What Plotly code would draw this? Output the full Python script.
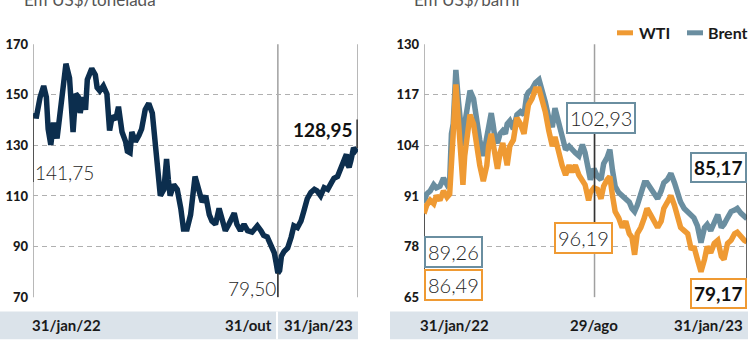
import plotly.graph_objects as go

W, H = 750, 350

# ---------------- data ----------------
# Left chart: minério de ferro, US$/tonelada (dias desde 31/jan/22)
dias_minerio = [0, 4, 8, 12, 15, 17, 20, 23, 25, 27, 30, 34, 37, 41, 43, 45, 48, 51, 53, 56,
                59, 61, 66, 70, 72, 75, 79, 83, 86, 89, 93, 96, 100, 104, 106, 109, 111, 115, 119, 122,
                126, 130, 134, 137, 140, 143, 147, 150, 152, 154, 158, 162, 166, 169, 173, 177, 182, 186, 190, 194,
                198, 201, 205, 209, 213, 216, 220, 226, 229, 233, 237, 241, 246, 252, 256, 259, 263, 267, 271, 273,
                275, 277, 279, 282, 286, 290, 293, 297, 301, 304, 308, 312, 316, 319, 323, 327, 331, 335, 338, 342,
                346, 350, 352, 353, 355, 357, 360, 362, 364]
minerio = [141.75, 141.6, 149.1, 153.5, 149.1, 136.5, 130.2, 139.0, 135.3, 132.8, 141.6, 152.9, 162.3, 156.7, 146.6, 135.3, 150.4, 149.1, 142.8, 149.1,
           144.1, 156.0, 160.4, 157.9, 152.9, 151.6, 153.5, 150.4, 135.9, 141.6, 140.3, 145.3, 135.3, 131.5, 127.7, 127.1, 135.3, 131.5, 134.0, 136.5,
           144.1, 146.6, 142.8, 132.8, 124.0, 110.1, 112.6, 124.6, 116.4, 110.1, 114.5, 112.6, 105.1, 96.9, 96.9, 102.6, 117.7, 112.6, 107.6, 110.1,
           102.6, 100.1, 98.8, 105.1, 100.1, 96.3, 98.8, 103.2, 98.8, 96.3, 98.8, 96.3, 95.7, 98.2, 96.3, 94.4, 93.8, 91.2, 87.5, 83.7,
           79.5, 80.5, 86.2, 88.1, 89.4, 93.8, 98.2, 97.5, 100.1, 103.8, 108.9, 111.4, 112.6, 112.0, 110.1, 113.3, 112.6, 115.2, 117.0, 117.7,
           121.4, 125.2, 126.5, 122.7, 121.4, 124.0, 129.0, 128.0, 128.95]

# Right chart: petróleo, US$/barril
dias_petroleo = [0, 3, 7, 11, 14, 18, 22, 26, 29, 31, 33, 36, 39, 41, 44, 46, 50, 52, 56, 60,
                 63, 67, 71, 73, 76, 78, 80, 83, 86, 89, 92, 94, 97, 101, 105, 109, 113, 116, 118, 122,
                 126, 130, 133, 137, 141, 145, 148, 152, 156, 160, 164, 167, 171, 175, 179, 182, 186, 188, 192, 196,
                 200, 203, 207, 210, 213, 216, 220, 224, 228, 232, 235, 238, 241, 245, 249, 252, 256, 260, 264, 268,
                 271, 275, 279, 283, 286, 290, 294, 298, 302, 305, 309, 313, 317, 320, 324, 328, 332, 336, 339, 343,
                 347, 351, 354, 358, 362, 365]
wti = [86.49, 88.6, 89.9, 89.0, 91.1, 89.9, 92.3, 90.7, 91.5, 103.8, 107.0, 119.7, 111.1, 101.3, 93.9, 101.3, 108.7, 111.9, 109.5, 102.1,
       98.9, 94.8, 98.9, 103.8, 107.0, 104.6, 101.3, 98.0, 102.1, 104.6, 101.3, 98.9, 103.8, 105.4, 111.1, 109.5, 107.0, 111.1, 114.4, 116.0,
       118.5, 118.5, 116.0, 112.7, 107.8, 103.8, 106.2, 102.1, 98.9, 96.4, 98.9, 97.2, 98.9, 96.4, 94.8, 93.9, 89.9, 91.9, 93.1, 92.7,
       90.3, 93.5, 95.2, 96.0, 91.1, 87.0, 85.4, 82.9, 84.5, 81.3, 80.4, 75.9, 81.3, 82.9, 85.4, 87.8, 86.2, 84.5, 82.9, 84.5,
       87.8, 89.4, 91.1, 88.6, 86.2, 82.9, 82.1, 81.3, 77.2, 78.0, 74.7, 71.5, 74.7, 78.0, 76.4, 78.8, 79.6, 75.5, 74.7, 78.8,
       79.6, 81.3, 81.7, 80.4, 79.6, 79.17]
brent = [89.26, 91.5, 92.3, 93.9, 93.1, 93.5, 95.6, 93.9, 94.8, 107.0, 109.5, 123.4, 115.2, 108.7, 103.8, 109.5, 116.0, 118.1, 116.0, 108.7,
         105.4, 101.3, 106.2, 109.5, 112.3, 109.5, 106.2, 104.6, 107.0, 107.8, 107.0, 109.5, 110.3, 108.2, 111.9, 112.7, 111.9, 116.8, 117.7, 118.5,
         120.1, 120.9, 118.9, 115.2, 111.1, 108.7, 113.6, 110.3, 106.2, 102.9, 103.8, 102.9, 102.1, 101.3, 104.2, 102.1, 97.2, 95.2, 98.0, 96.0,
         95.2, 99.3, 100.9, 102.9, 97.6, 93.5, 91.9, 91.0, 90.3, 89.4, 87.8, 87.0, 88.6, 91.1, 94.4, 94.4, 93.1, 91.5, 90.3, 92.3,
         94.4, 95.2, 96.8, 94.4, 91.9, 89.4, 87.8, 87.0, 86.2, 85.4, 83.3, 79.0, 82.9, 83.7, 82.1, 84.5, 86.2, 82.9, 83.7, 85.4,
         87.0, 87.4, 87.8, 86.6, 85.8, 85.17]

yticks_minerio = [70, 90, 110, 130, 150, 170]
yticks_petroleo = [65, 78, 91, 104, 117, 130]

NAVY = "#0c2e4e"
ORANGE = "#ef9a33"
STEEL = "#6a8ea0"
GRID = "#b0b0b0"
BAND = "#dbe3ea"
FONT = "Lato"

def px_x(p):
    return p / W

def px_y(p):
    return 1 - p / H

fig = go.Figure()
fig.add_trace(go.Scatter(x=dias_minerio, y=minerio, mode="lines", xaxis="x", yaxis="y",
                         line=dict(color=NAVY, width=5.5), showlegend=False, hoverinfo="skip"))
fig.add_trace(go.Scatter(x=dias_petroleo, y=brent, mode="lines", xaxis="x2", yaxis="y2", name="Brent",
                         line=dict(color=STEEL, width=5.5), showlegend=False, hoverinfo="skip"))
fig.add_trace(go.Scatter(x=dias_petroleo, y=wti, mode="lines", xaxis="x2", yaxis="y2", name="WTI",
                         line=dict(color=ORANGE, width=5.5), showlegend=False, hoverinfo="skip"))

ydom = [px_y(303), px_y(38)]
tickfont = dict(family=FONT, size=13, color="#1a1a1a", weight=900)
axis_common = dict(showgrid=True, gridcolor=GRID, griddash="5px,4px", gridwidth=1.2, zeroline=False,
                   showline=False, ticks="", tickfont=tickfont, ticklabelstandoff=4, fixedrange=True)
fig.update_layout(
    width=W, height=H, margin=dict(l=0, r=0, t=0, b=0),
    paper_bgcolor="white", plot_bgcolor="white",
    xaxis=dict(domain=[px_x(33), px_x(358)], range=[0, 365], showgrid=False, zeroline=False,
               showticklabels=False, showline=False, fixedrange=True),
    yaxis=dict(domain=ydom, range=[70, 170], tickvals=yticks_minerio, anchor="x", **axis_common),
    xaxis2=dict(domain=[px_x(424), px_x(747)], range=[0, 365], showgrid=False, zeroline=False,
                showticklabels=False, showline=False, anchor="y2", fixedrange=True),
    yaxis2=dict(domain=ydom, range=[65, 130], tickvals=yticks_petroleo, anchor="x2", **axis_common),
)

shapes = []
# borders / reference verticals
for xv in [0, 365, 275]:
    shapes.append(dict(type="line", xref="x", yref="y domain", x0=xv, x1=xv, y0=0, y1=1,
                       line=dict(color="#a0a0a0", width=1.5), layer="below"))
for xv in [0, 192.7]:
    shapes.append(dict(type="line", xref="x2", yref="y2 domain", x0=xv, x1=xv, y0=0, y1=1,
                       line=dict(color="#a0a0a0", width=1.5), layer="below"))
# dark leader lines
DARK = "#333333"
shapes += [
    dict(type="line", xref="x", yref="y", x0=0, x1=0, y0=141.75, y1=115.5, line=dict(color=DARK, width=1.5)),
    dict(type="line", xref="x", yref="y", x0=275, x1=275, y0=79.5, y1=70, line=dict(color=DARK, width=1.5)),
    dict(type="line", xref="x", yref="y", x0=364, x1=364, y0=129, y1=140.2, line=dict(color=DARK, width=1.5)),
    dict(type="line", xref="x2", yref="y2", x0=0, x1=0, y0=86.49, y1=65, line=dict(color=DARK, width=1.5)),
    dict(type="line", xref="x2", yref="y2", x0=192.7, x1=192.7, y0=108.4, y1=83.4, line=dict(color=DARK, width=1.5)),
    dict(type="line", xref="x2", yref="y2", x0=365, x1=365, y0=95.2, y1=68.9, line=dict(color=DARK, width=1.5)),
]
# bottom bands
shapes += [
    dict(type="rect", xref="paper", yref="paper", x0=0, x1=px_x(358), y0=px_y(347), y1=px_y(318),
         fillcolor=BAND, line=dict(width=0), layer="below"),
    dict(type="line", xref="paper", yref="paper", x0=px_x(277), x1=px_x(277), y0=px_y(347), y1=px_y(318),
         line=dict(color="white", width=2)),
    dict(type="rect", xref="paper", yref="paper", x0=px_x(390), x1=px_x(748), y0=px_y(347), y1=px_y(318),
         fillcolor=BAND, line=dict(width=0), layer="below"),
]
# legend markers
shapes += [
    dict(type="line", xref="paper", yref="paper", x0=px_x(617), x1=px_x(633), y0=px_y(26), y1=px_y(26),
         line=dict(color=ORANGE, width=5)),
    dict(type="line", xref="paper", yref="paper", x0=px_x(687), x1=px_x(703), y0=px_y(26), y1=px_y(26),
         line=dict(color=STEEL, width=5)),
]
fig.update_layout(shapes=shapes)

light = dict(family=FONT, size=19, color="#1e1e1e", weight=300)
boldn = dict(family=FONT, size=19, color="#111", weight="bold")
band = dict(family=FONT, size=15, color="#1a1a1a", weight="bold")
ann = []
# titles (cut off at the top edge, as in the reference)
ann.append(dict(xref="paper", yref="paper", x=px_x(22), y=px_y(4), xanchor="left", yanchor="bottom",
                text="Em US$/tonelada", showarrow=False, font=dict(family=FONT, size=17, color="#555")))
ann.append(dict(xref="paper", yref="paper", x=px_x(412), y=px_y(4), xanchor="left", yanchor="bottom",
                text="Em US$/barril", showarrow=False, font=dict(family=FONT, size=17, color="#555")))
# left value labels
ann.append(dict(xref="x", yref="y", x=0, y=119.1, xanchor="left", yanchor="middle", xshift=0,
                text="141,75", showarrow=False, font=light))
ann.append(dict(xref="x", yref="y", x=275, y=73.4, xanchor="right", yanchor="middle", xshift=0,
                text="79,50", showarrow=False, font=light))
ann.append(dict(xref="x", yref="y", x=364, y=136.2, xanchor="right", yanchor="middle", xshift=-2,
                text="128,95", showarrow=False, font=boldn))
# right boxed labels
def box(x, y, text, color, xanchor, bold=False):
    f = dict(boldn) if bold else dict(light)
    f["size"] = 20 if not bold else 19
    return dict(xref="x2", yref="y2", x=x, y=y, xanchor=xanchor, yanchor="middle", text=text,
                showarrow=False, font=f, bgcolor="white", bordercolor=color, borderwidth=2, borderpad=2)
ann += [
    box(199.5, 111.0, "102,93", STEEL, "center"),
    box(179.7, 80.1, "96,19", ORANGE, "center"),
    box(0, 76.5, "89,26", STEEL, "left"),
    box(0, 68.2, "86,49", ORANGE, "left"),
    box(365, 98.2, "85,17", STEEL, "right", bold=True),
    box(365, 65.9, "79,17", ORANGE, "right", bold=True),
]
# legend text
ann.append(dict(xref="paper", yref="paper", x=px_x(637), y=px_y(26), xanchor="left", yanchor="middle",
                text="WTI", showarrow=False, font=dict(family=FONT, size=16, color="#1a1a1a", weight="bold")))
ann.append(dict(xref="paper", yref="paper", x=px_x(706), y=px_y(26), xanchor="left", yanchor="middle",
                text="Brent", showarrow=False, font=dict(family=FONT, size=16, color="#1a1a1a", weight="bold")))
# x labels in bands
yb = px_y(332)
ann += [
    dict(xref="paper", yref="paper", x=px_x(30), y=yb, xanchor="left", yanchor="middle", text="31/jan/22", showarrow=False, font=band),
    dict(xref="paper", yref="paper", x=px_x(274), y=yb, xanchor="right", yanchor="middle", text="31/out", showarrow=False, font=band),
    dict(xref="paper", yref="paper", x=px_x(355), y=yb, xanchor="right", yanchor="middle", text="31/jan/23", showarrow=False, font=band),
    dict(xref="paper", yref="paper", x=px_x(418), y=yb, xanchor="left", yanchor="middle", text="31/jan/22", showarrow=False, font=band),
    dict(xref="paper", yref="paper", x=px_x(594), y=yb, xanchor="center", yanchor="middle", text="29/ago", showarrow=False, font=band),
    dict(xref="paper", yref="paper", x=px_x(745), y=yb, xanchor="right", yanchor="middle", text="31/jan/23", showarrow=False, font=band),
]
fig.update_layout(annotations=ann)

fig.write_html("out.html")
